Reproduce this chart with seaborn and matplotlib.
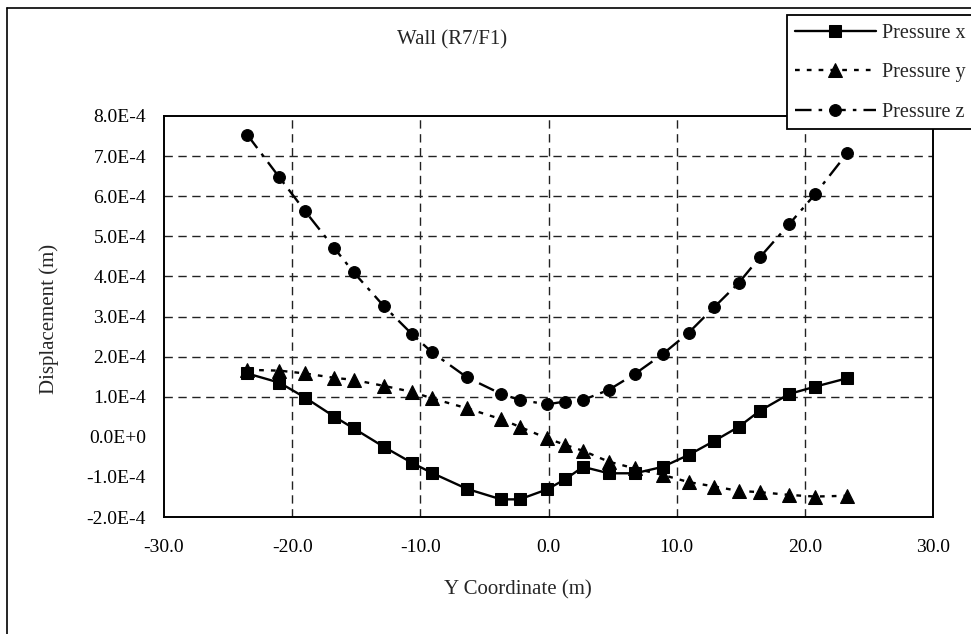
import numpy as np
import pandas as pd
import matplotlib
matplotlib.use("Agg")
import matplotlib.pyplot as plt
import seaborn as sns
from matplotlib.ticker import FuncFormatter
from matplotlib.lines import Line2D
from matplotlib.patches import Rectangle

# Y coordinate along the wall (m)
y_coord = [-23.5, -21.0, -19.0, -16.7, -15.2, -12.85, -10.65, -9.1, -6.35, -3.7, -2.25, -0.1,
           1.3, 2.7, 4.7, 6.75, 8.9, 10.95, 12.95, 14.85, 16.5, 18.8, 20.8, 23.3]

# Displacements (m) for each pressure direction
disp_x = [1.58e-4, 1.35e-4, 0.98e-4, 0.50e-4, 0.21e-4, -0.25e-4, -0.65e-4, -0.90e-4, -1.30e-4, -1.56e-4,
          -1.56e-4, -1.31e-4, -1.06e-4, -0.75e-4, -0.91e-4, -0.91e-4, -0.75e-4, -0.45e-4, -0.10e-4,
          0.25e-4, 0.65e-4, 1.07e-4, 1.25e-4, 1.46e-4]
disp_y = [1.67e-4, 1.65e-4, 1.58e-4, 1.47e-4, 1.42e-4, 1.27e-4, 1.12e-4, 0.96e-4, 0.71e-4, 0.44e-4,
          0.25e-4, -0.04e-4, -0.20e-4, -0.35e-4, -0.62e-4, -0.79e-4, -0.95e-4, -1.13e-4, -1.24e-4,
          -1.35e-4, -1.38e-4, -1.45e-4, -1.49e-4, -1.47e-4]
disp_z = [7.53e-4, 6.47e-4, 5.63e-4, 4.70e-4, 4.10e-4, 3.26e-4, 2.56e-4, 2.11e-4, 1.48e-4, 1.07e-4,
          0.92e-4, 0.81e-4, 0.88e-4, 0.92e-4, 1.17e-4, 1.57e-4, 2.06e-4, 2.60e-4, 3.24e-4, 3.84e-4,
          4.48e-4, 5.31e-4, 6.05e-4, 7.07e-4]

series_names = ["Pressure x", "Pressure y", "Pressure z"]
x_ticks = [-30, -20, -10, 0, 10, 20, 30]
y_ticks = [-2e-4, -1e-4, 0, 1e-4, 2e-4, 3e-4, 4e-4, 5e-4, 6e-4, 7e-4, 8e-4]
h_grid = [1e-4, 2e-4, 3e-4, 4e-4, 5e-4, 6e-4, 7e-4]
v_grid = [-20, -10, 0, 10, 20]

sns.set_style("white")
plt.rcParams["font.family"] = ["Liberation Serif", "DejaVu Serif"]

W, H = 971, 634
fig = plt.figure(figsize=(W / 100, H / 100), dpi=100)
ax = fig.add_axes([164 / W, 1 - 517 / H, (933 - 164) / W, (517 - 116) / H])

styles = [
    dict(marker="s", linestyle="-", markersize=8.5),
    dict(marker="^", linestyle=(0, (2, 3)), markersize=10),
    dict(marker="o", linestyle=(0, (7, 3, 1.5, 3)), markersize=8.5),
]
for name, vals, st in zip(series_names, [disp_x, disp_y, disp_z], styles):
    df = pd.DataFrame({"Y": y_coord, "D": vals})
    sns.lineplot(data=df, x="Y", y="D", ax=ax, color="black", linewidth=1.7,
                 markeredgecolor="black", markerfacecolor="black", estimator=None,
                 sort=False, label=name, **st)

# gridlines
for gx in v_grid:
    ax.axvline(gx, color="#222222", linewidth=1.0, linestyle=(0, (6, 4)), zorder=0)
for gy in h_grid:
    ax.axhline(gy, color="#222222", linewidth=1.0, linestyle=(0, (6, 4)), zorder=0)

ax.set_xlim(-30, 30)
ax.set_ylim(-2e-4, 8e-4)
ax.set_xticks(x_ticks)
ax.set_yticks(y_ticks)


def sci_fmt(v, pos=None):
    if abs(v) < 1e-12:
        return "0.0E+0"
    e = int(np.floor(np.log10(abs(v)) + 1e-9))
    m = v / 10 ** e
    return f"{m:.1f}E{e:+d}"


ax.yaxis.set_major_formatter(FuncFormatter(sci_fmt))
ax.xaxis.set_major_formatter(FuncFormatter(lambda v, p: f"{v:.1f}"))
ax.tick_params(axis="both", direction="in", length=5, width=1, color="black",
               labelsize=14, labelcolor="black")
ax.tick_params(axis="y", pad=13)
ax.tick_params(axis="x", pad=16)
ax.set_xlabel("")
ax.set_ylabel("")
for s in ax.spines.values():
    s.set_color("black")
    s.set_linewidth(1.4)

fig.text(452 / W, 1 - 40 / H, "Wall (R7/F1)", ha="center", va="center", fontsize=15)
fig.text(518 / W, 1 - 590 / H, "Y Coordinate (m)", ha="center", va="center", fontsize=15)
fig.text(49 / W, 1 - 319 / H, "Displacement (m)", ha="center", va="center",
         rotation=90, fontsize=15)

# chart area frame
fig.add_artist(Line2D([7 / W, 7 / W], [0, 1 - 8 / H], color="black", linewidth=1.2))
fig.add_artist(Line2D([7 / W, 1], [1 - 8 / H, 1 - 8 / H], color="black", linewidth=1.2))

# legend box runs past the right edge of the chart area
fig.add_artist(Rectangle((787 / W, 1 - 129 / H), 220 / W, 114 / H,
                         transform=fig.transFigure, facecolor="white",
                         edgecolor="black", linewidth=1.3, zorder=5))
leg = ax.legend(loc="upper left", bbox_to_anchor=(789 / W, 1 - 18 / H),
                bbox_transform=fig.transFigure, fontsize=14.5, frameon=False,
                handlelength=4.0, handletextpad=0.3,
                labelspacing=1.0, borderpad=0.3, borderaxespad=0)
leg.set_zorder(6)
leg.remove()
fig.add_artist(leg)

fig.savefig("out.png", dpi=100, facecolor="white")
